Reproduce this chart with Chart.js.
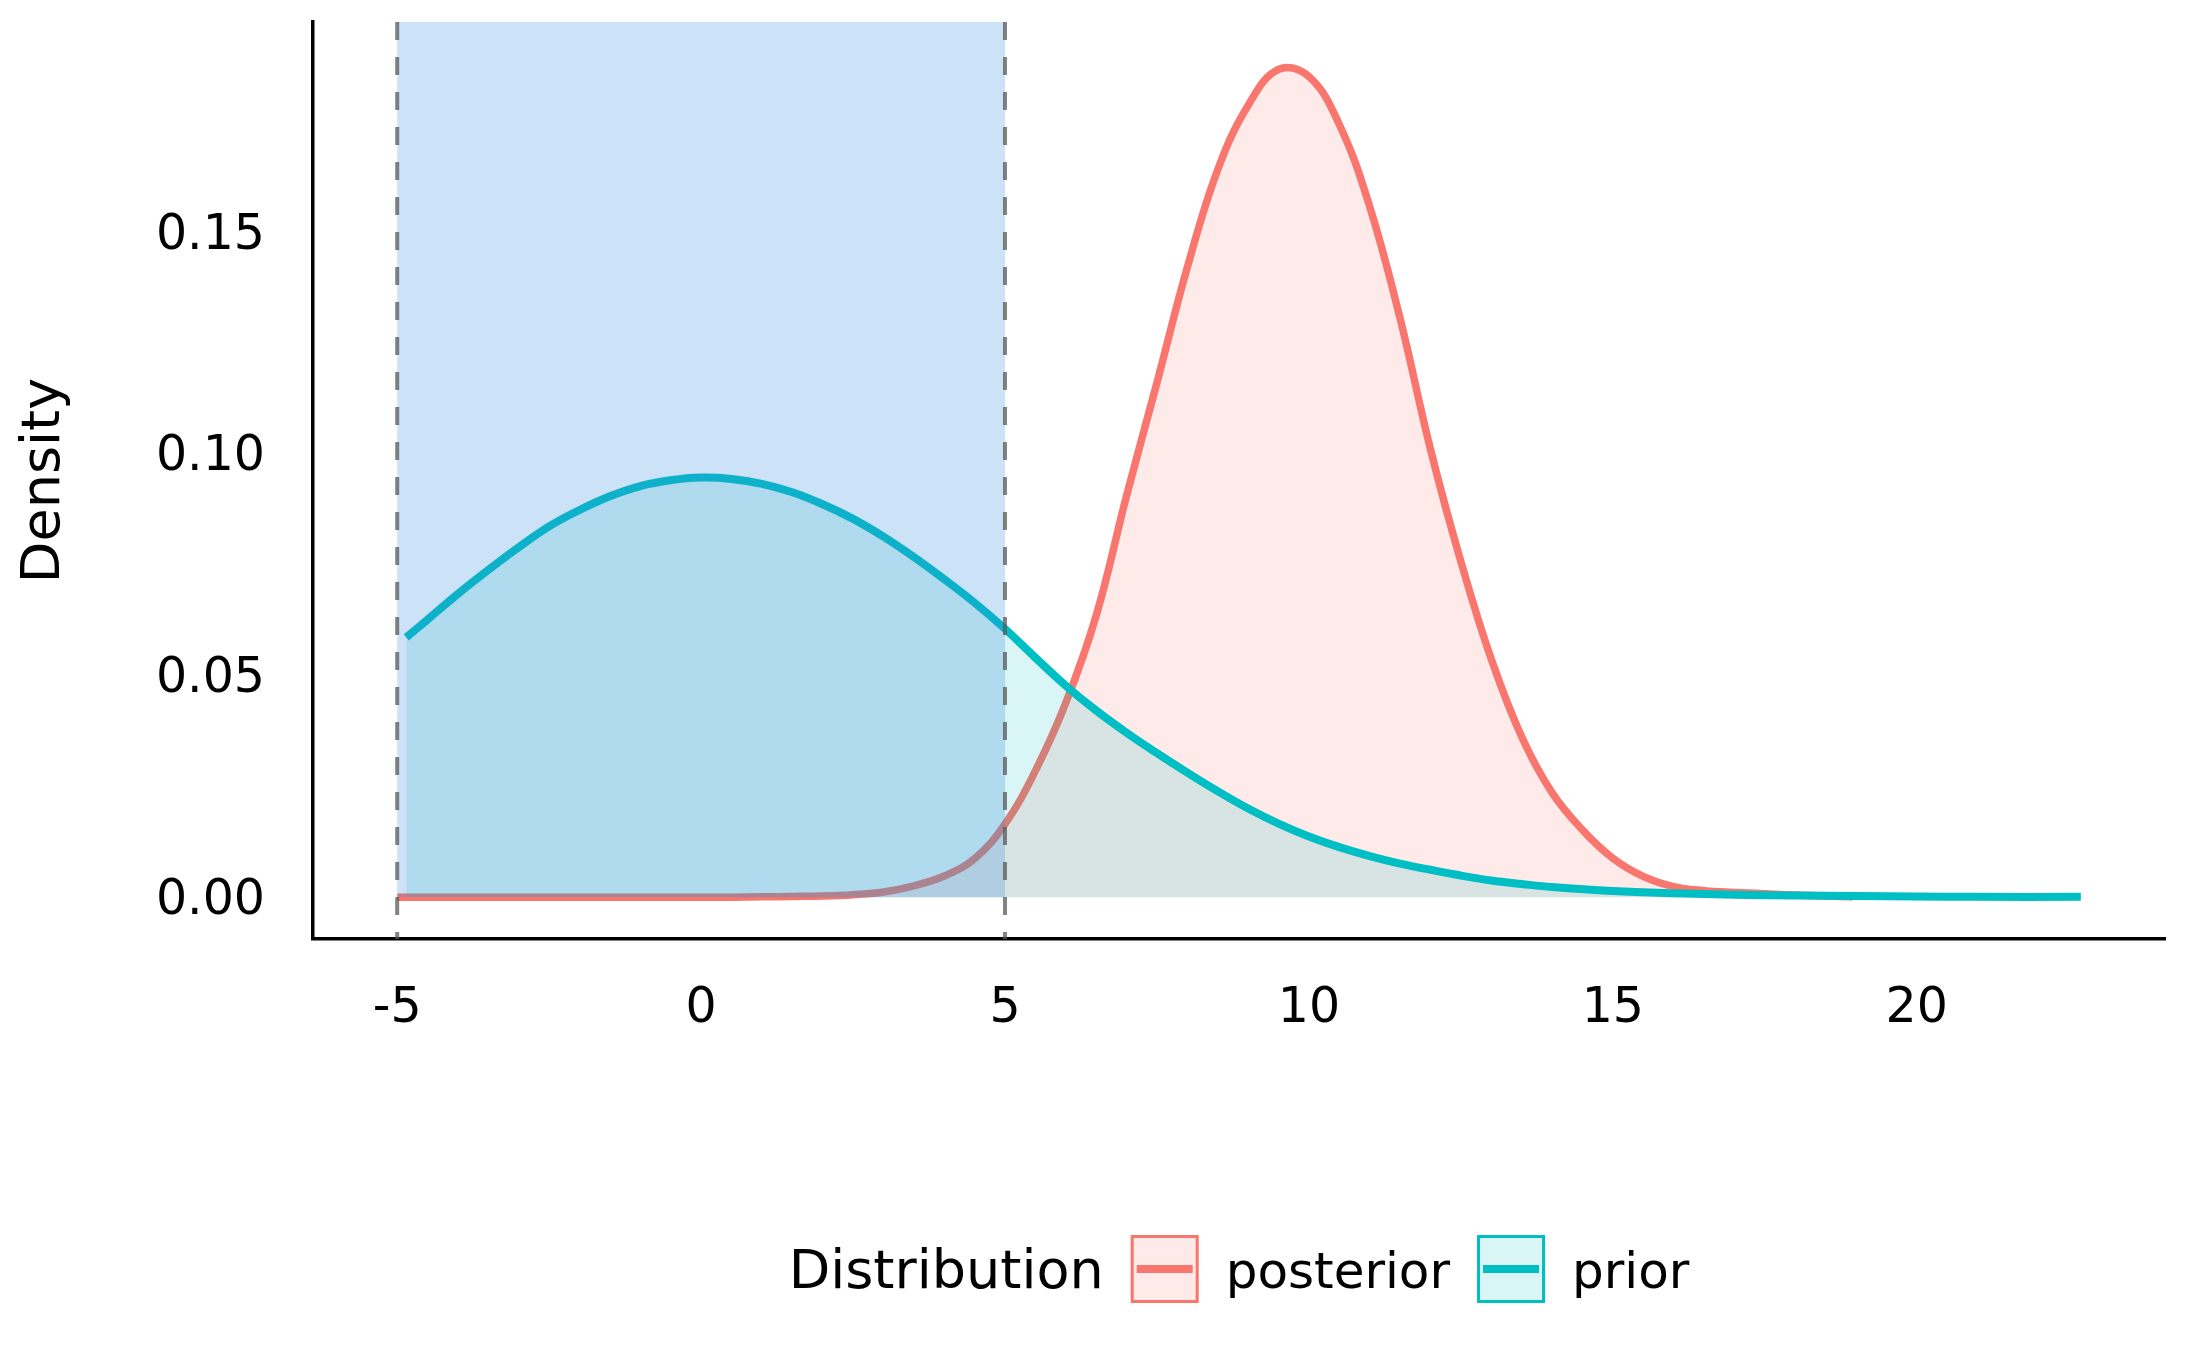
<!DOCTYPE html>
<html>
<head>
<meta charset="utf-8">
<script src="https://cdn.jsdelivr.net/npm/chart.js@4.4.1/dist/chart.umd.min.js"></script>
<style>
  html, body { margin: 0; padding: 0; background: #fff; }
  #wrap { width: 2187px; height: 1351px; }
</style>
</head>
<body>
<div id="wrap"><canvas id="densityChart" width="2187" height="1351"></canvas></div>
<script>
// values
const xTicks = [-5, 0, 5, 10, 15, 20];
const yTicks = [0, 0.05, 0.10, 0.15];

const postX = [-5, -4, -3, -2, -1, 0, 1, 1.5, 2, 2.5,
  3, 3.5, 4, 4.5, 5, 5.5, 6, 6.5, 7, 7.5,
  8, 8.5, 9, 9.5, 10, 10.5, 11, 11.5, 12,
  12.5, 13, 13.5, 14, 14.5, 15, 15.5, 16, 16.5, 17,
  17.5, 18, 18.5, 18.95];
const postY = [0, 0, 0, 0, 0, 0, 0.0001, 0.0002, 0.0003, 0.0006,
  0.0012, 0.0026, 0.0048, 0.0087, 0.0165, 0.0285, 0.0438, 0.0635, 0.0905, 0.1160,
  0.1420, 0.1640, 0.1785, 0.1866, 0.1850, 0.1742, 0.1557, 0.1305, 0.1010,
  0.0757, 0.0537, 0.0362, 0.0236, 0.0152, 0.0088, 0.0047, 0.0024, 0.0015, 0.0011,
  0.0008, 0.0005, 0.0003, 0.0001];

const priorX = [-4.85, -4.5, -4, -3.5, -3, -2.5, -2, -1.5, -1, -0.5,
  0, 0.5, 1, 1.5, 2, 2.5, 3, 3.5, 4, 4.5,
  5, 5.5, 6, 6.5, 7, 7.5, 8, 8.5, 9, 9.5,
  10, 10.5, 11, 11.5, 12, 12.5, 13, 13.5, 14,
  15, 16, 17, 18, 19, 20, 21, 22.7];
const priorY = [0.0586, 0.0626, 0.0684, 0.0738, 0.0789, 0.0836, 0.0873, 0.0904, 0.0927, 0.0940,
  0.0946, 0.0943, 0.0932, 0.0913, 0.0886, 0.0853, 0.0813, 0.0767, 0.0717, 0.0664,
  0.0605, 0.0540, 0.0477, 0.0421, 0.0371, 0.0325, 0.0281, 0.0239, 0.0200, 0.0166,
  0.0137, 0.0113, 0.0093, 0.0076, 0.0062, 0.0049, 0.0038, 0.0030, 0.0023,
  0.0014, 0.0009, 0.0006, 0.0004, 0.0003, 0.0002, 0.0001, 0.0001];

const shadeRange = [-5, 5];
const cutLines = [-5, 5];
const distributions = ['posterior', 'prior'];

const FONT = '"DejaVu Sans", sans-serif';
const colors = { posterior: '#F8766D', prior: '#00BFC4' };
const fills = { posterior: 'rgba(248,118,109,0.15)', prior: 'rgba(0,191,196,0.15)' };

const toPoints = (xs, ys) => xs.map((x, i) => ({ x: x, y: ys[i] }));

// shaded interval and dashed cut lines, drawn on top of the densities
const intervalPlugin = {
  id: 'interval',
  afterDatasetsDraw(chart) {
    const { ctx, chartArea, scales: { x, y } } = chart;
    const x0 = x.getPixelForValue(shadeRange[0]);
    const x1 = x.getPixelForValue(shadeRange[1]);
    const yb = y.getPixelForValue(0);
    ctx.save();
    ctx.fillStyle = 'rgba(50,140,220,0.25)';
    ctx.fillRect(x0, chartArea.top, x1 - x0, yb - chartArea.top);
    ctx.strokeStyle = 'rgba(90,90,90,0.75)';
    ctx.lineWidth = 4;
    ctx.setLineDash([18, 17]);
    cutLines.forEach(v => {
      const px = x.getPixelForValue(v);
      ctx.beginPath();
      ctx.moveTo(px, chartArea.top);
      ctx.lineTo(px, chartArea.bottom);
      ctx.stroke();
    });
    ctx.restore();
  }
};

// ggplot-style legend below the panel
const legendPlugin = {
  id: 'bottomLegend',
  afterDraw(chart) {
    const { ctx, chartArea } = chart;
    const titleFont = '54px ' + FONT;
    const textFont = '50px ' + FONT;
    const key = 68, gap = 27, baseline = 1288, keyTop = 1235;
    ctx.save();
    ctx.font = titleFont;
    const titleW = ctx.measureText('Distribution').width;
    ctx.font = textFont;
    const widths = distributions.map(d => ctx.measureText(d).width);
    let total = titleW + gap;
    widths.forEach((w, i) => { total += key + gap + w + (i < widths.length - 1 ? gap : 0); });
    let cx = (chartArea.left + chartArea.right) / 2 - total / 2;
    ctx.fillStyle = '#000';
    ctx.textBaseline = 'alphabetic';
    ctx.font = titleFont;
    ctx.fillText('Distribution', cx, baseline);
    cx += titleW + gap;
    distributions.forEach((d, i) => {
      ctx.fillStyle = fills[d];
      ctx.fillRect(cx, keyTop, key, key);
      ctx.strokeStyle = colors[d];
      ctx.lineWidth = 3;
      ctx.strokeRect(cx + 1.5, keyTop + 1.5, key - 3, key - 3);
      ctx.lineWidth = 8;
      ctx.beginPath();
      ctx.moveTo(cx + 6, keyTop + key / 2);
      ctx.lineTo(cx + key - 6, keyTop + key / 2);
      ctx.stroke();
      cx += key + gap;
      ctx.fillStyle = '#000';
      ctx.font = textFont;
      ctx.fillText(d, cx, baseline);
      cx += widths[i] + gap;
    });
    ctx.restore();
  }
};

new Chart(document.getElementById('densityChart'), {
  type: 'line',
  data: {
    datasets: [{
      label: 'prior',
      data: toPoints(priorX, priorY),
      borderColor: colors.prior,
      backgroundColor: fills.prior,
      borderWidth: 8,
      fill: 'origin',
      pointRadius: 0,
      tension: 0.4,
      order: 1
    }, {
      label: 'posterior',
      data: toPoints(postX, postY),
      borderColor: colors.posterior,
      backgroundColor: fills.posterior,
      borderWidth: 7.5,
      fill: 'origin',
      pointRadius: 0,
      tension: 0.4,
      order: 2
    }]
  },
  options: {
    responsive: false,
    devicePixelRatio: 1,
    animation: false,
    events: [],
    layout: { padding: { left: 0, top: 22, right: 22, bottom: 0 } },
    plugins: { legend: { display: false }, tooltip: { enabled: false } },
    scales: {
      x: {
        type: 'linear',
        min: -6.385,
        max: 24.085,
        grid: { display: false, drawTicks: false },
        border: { display: true, color: '#000', width: 3.5 },
        ticks: {
          font: { family: FONT, size: 49, lineHeight: 1.2 },
          color: '#000',
          padding: 41,
          maxRotation: 0,
          callback: v => String(v)
        },
        afterBuildTicks: scale => { scale.ticks = xTicks.map(v => ({ value: v })); },
        afterFit: scale => {
          scale.height = 412;
          scale.paddingLeft = 0;
          scale.paddingRight = 0;
        }
      },
      y: {
        type: 'linear',
        min: -0.0094,
        max: 0.1973,
        grid: { display: false, drawTicks: false },
        border: { display: true, color: '#000', width: 3.5 },
        title: {
          display: true,
          text: 'Density',
          color: '#000',
          font: { family: FONT, size: 54, lineHeight: 1.2 },
          padding: { top: 13, bottom: 0 }
        },
        ticks: {
          font: { family: FONT, size: 49, lineHeight: 1.2 },
          color: '#000',
          padding: 48,
          labelOffset: 4,
          callback: v => v.toFixed(2)
        },
        afterBuildTicks: scale => { scale.ticks = yTicks.map(v => ({ value: v })); },
        afterFit: scale => {
          scale.width = 313;
          scale.paddingTop = 0;
          scale.paddingBottom = 0;
        }
      }
    }
  },
  plugins: [intervalPlugin, legendPlugin]
});
</script>
</body>
</html>
